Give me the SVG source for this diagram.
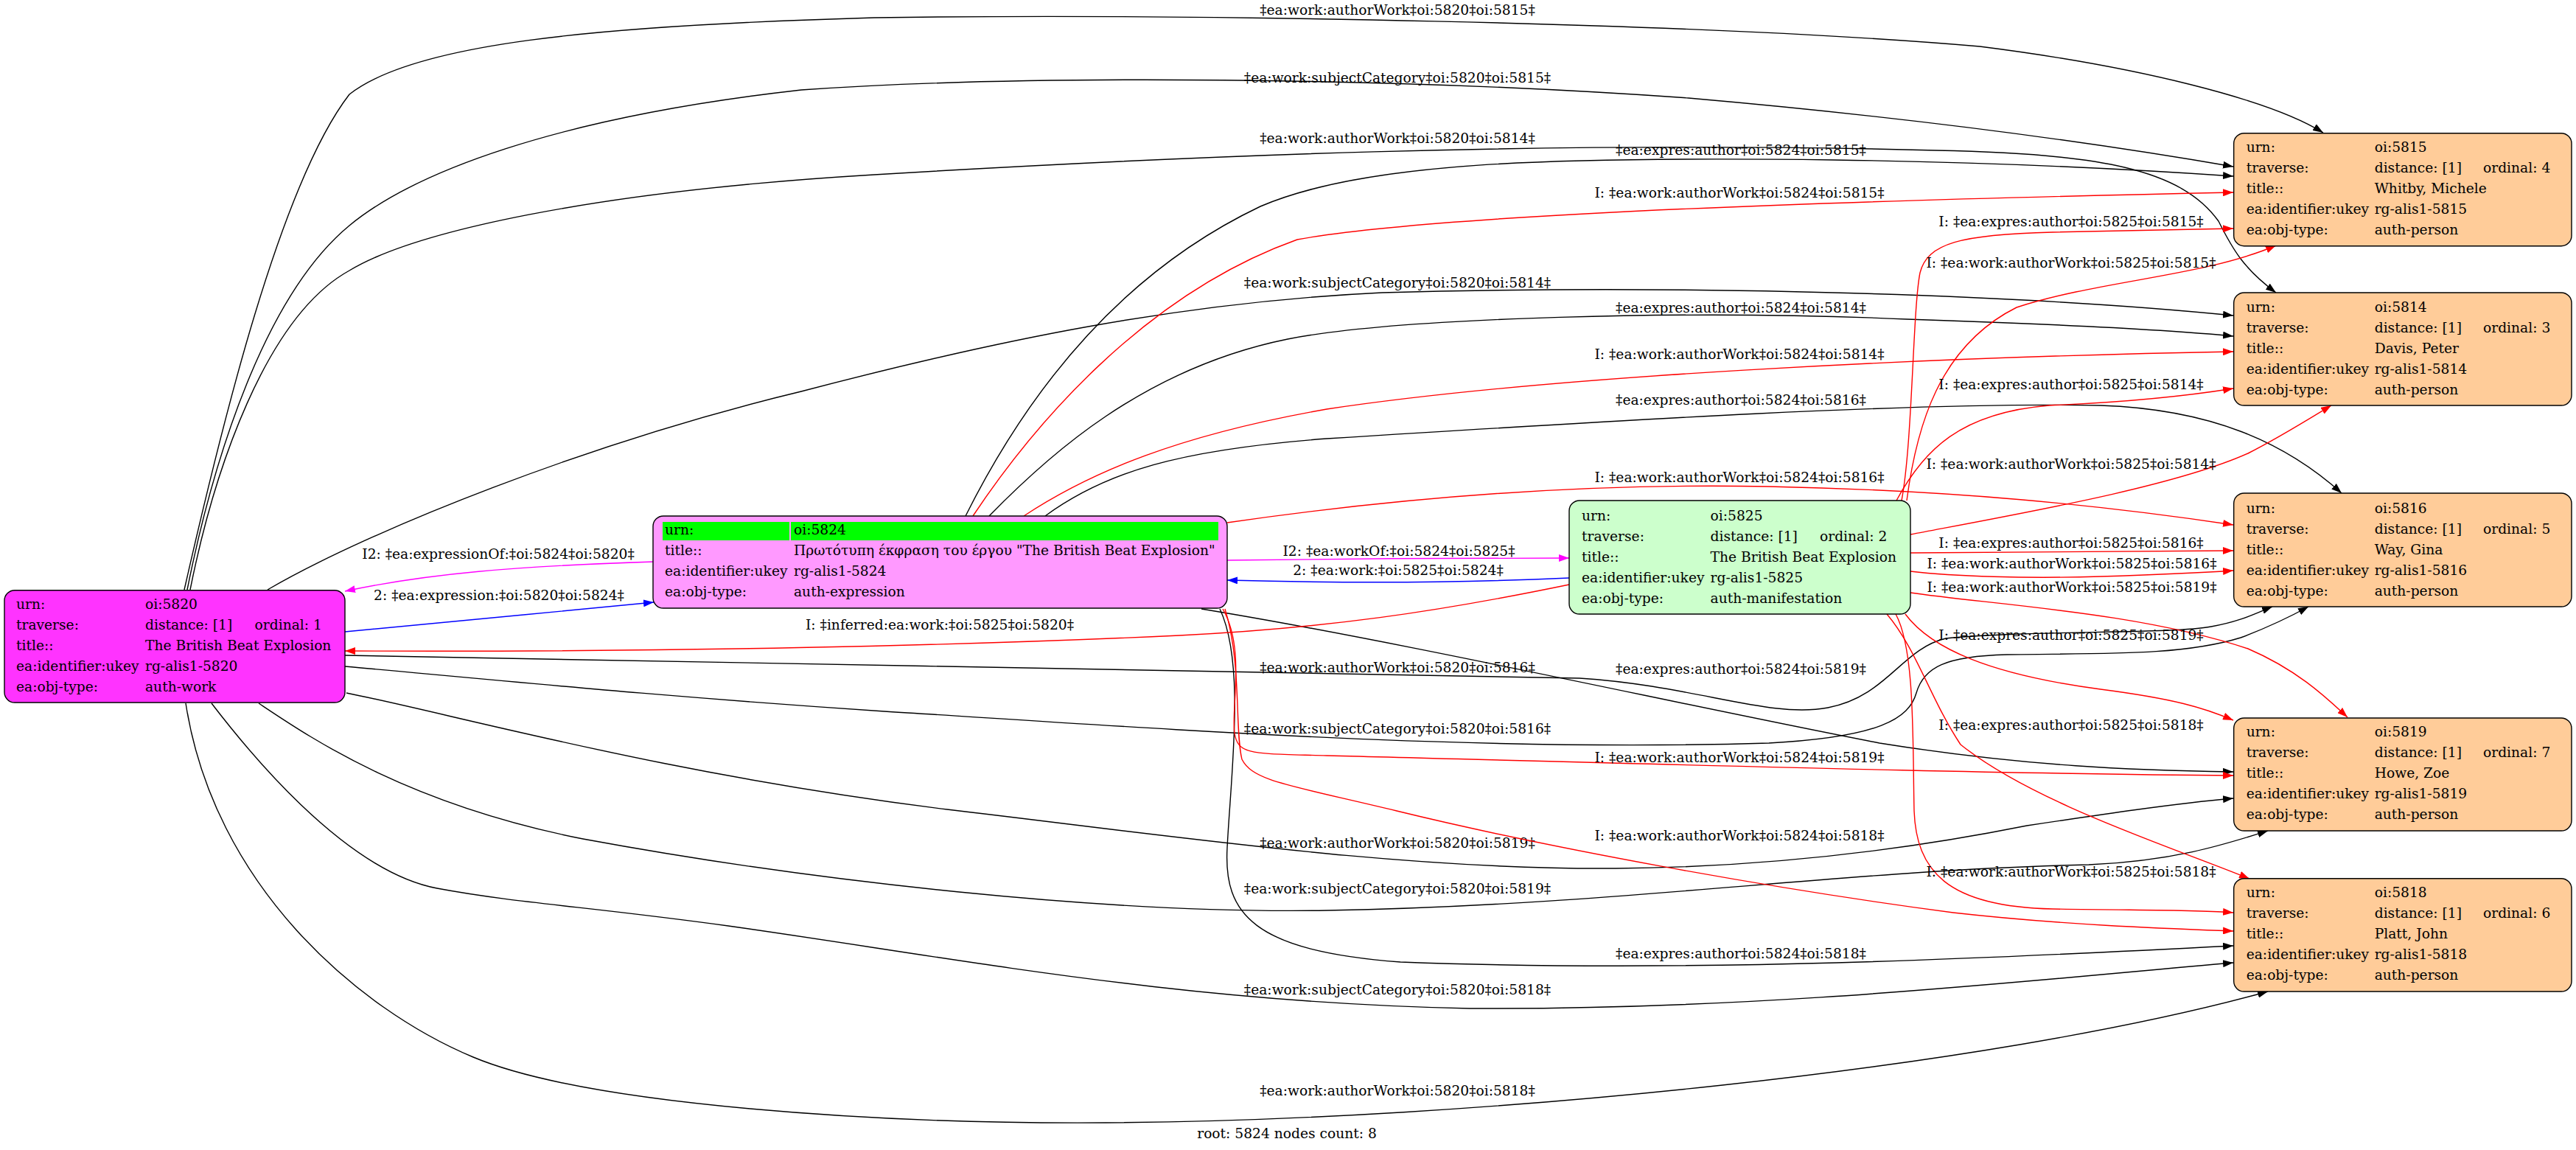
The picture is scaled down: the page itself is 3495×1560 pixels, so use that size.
<svg xmlns="http://www.w3.org/2000/svg" width="3495" height="1560" viewBox="0 0 3495 1560">
<style>
text{font-family:"DejaVu Serif","Liberation Serif",serif;font-size:18.67px;fill:#000}
.lbl{text-anchor:middle}
.e{fill:none;stroke-width:1.4}
.k{stroke:#000}
.r{stroke:#ff0000}
.m{stroke:#ff00ff}
.b{stroke:#0000ff}
.box{stroke:#000;stroke-width:1.4}
.person{fill:#ffcc99}
</style>
<defs>
<marker id="ak" viewBox="0 0 14 10" refX="14" refY="5" markerWidth="14" markerHeight="10" markerUnits="userSpaceOnUse" orient="auto"><path d="M0,0 L14,5 L0,10 z" fill="#000"/></marker>
<marker id="ar" viewBox="0 0 14 10" refX="14" refY="5" markerWidth="14" markerHeight="10" markerUnits="userSpaceOnUse" orient="auto"><path d="M0,0 L14,5 L0,10 z" fill="#ff0000"/></marker>
<marker id="am" viewBox="0 0 14 10" refX="14" refY="5" markerWidth="14" markerHeight="10" markerUnits="userSpaceOnUse" orient="auto"><path d="M0,0 L14,5 L0,10 z" fill="#ff00ff"/></marker>
<marker id="ab" viewBox="0 0 14 10" refX="14" refY="5" markerWidth="14" markerHeight="10" markerUnits="userSpaceOnUse" orient="auto"><path d="M0,0 L14,5 L0,10 z" fill="#0000ff"/></marker>
</defs>
<rect x="0" y="0" width="3495" height="1560" fill="#ffffff"/>

<g id="edges">
<g id="e1"><path class="e k" marker-end="url(#ak)" d="M250,800 C300,580 380,250 474,128 C560,60 800,35 1186,24 C1600,18 2300,30 2686,63 C2900,90 3080,135 3152,180"/><text class="lbl" x="1896" y="20">‡ea:work:authorWork‡oi:5820‡oi:5815‡</text></g>
<g id="e2"><path class="e k" marker-end="url(#ak)" d="M254,800 C290,620 360,400 474,306 C560,235 750,160 1087,122 C1400,100 1900,105 2291,133 C2600,160 2850,195 3030,226"/><text class="lbl" x="1896" y="112">‡ea:work:subjectCategory‡oi:5820‡oi:5815‡</text></g>
<g id="e3"><path class="e k" marker-end="url(#ak)" d="M258,800 C290,640 360,430 474,367 C560,315 800,260 1186,237 C1600,212 2100,190 2627,204 C2850,208 2960,230 3010,300 C3030,340 3045,365 3088,397"/><text class="lbl" x="1896" y="194">‡ea:work:authorWork‡oi:5820‡oi:5814‡</text></g>
<g id="e4"><path class="e k" marker-end="url(#ak)" d="M363,800 C500,720 800,600 1087,531 C1350,462 1600,410 1875,397 C2300,385 2750,400 3030,428"/><text class="lbl" x="1896" y="390">‡ea:work:subjectCategory‡oi:5820‡oi:5814‡</text></g>
<g id="e5"><path class="e k" marker-end="url(#ak)" d="M468,889 C900,900 1800,910 2143,920 C2300,930 2400,975 2480,960 C2560,945 2580,880 2640,866 C2750,855 2950,860 3000,850 C3040,843 3060,832 3083,823"/><text class="lbl" x="1896" y="912">‡ea:work:authorWork‡oi:5820‡oi:5816‡</text></g>
<g id="e6"><path class="e k" marker-end="url(#ak)" d="M468,904 C700,925 900,945 1200,965 C1600,990 2000,1020 2400,1008 C2550,1000 2590,975 2600,940 C2610,905 2640,890 2723,888 C2850,886 2960,890 3040,865 C3080,850 3110,835 3132,823"/><text class="lbl" x="1896" y="995">‡ea:work:subjectCategory‡oi:5820‡oi:5816‡</text></g>
<g id="e7"><path class="e k" marker-end="url(#ak)" d="M470,940 C620,970 900,1050 1285,1098 C1600,1135 1900,1180 2192,1178 C2450,1176 2650,1140 2750,1120 C2850,1105 2950,1090 3030,1083"/><text class="lbl" x="1896" y="1150">‡ea:work:authorWork‡oi:5820‡oi:5819‡</text></g>
<g id="e8"><path class="e k" marker-end="url(#ak)" d="M351,954 C420,1000 550,1090 791,1138 C1100,1195 1500,1240 1800,1235 C2200,1228 2500,1180 2834,1173 C2950,1168 3020,1145 3077,1127"/><text class="lbl" x="1896" y="1212">‡ea:work:subjectCategory‡oi:5820‡oi:5819‡</text></g>
<g id="e9"><path class="e k" marker-end="url(#ak)" d="M287,954 C330,1010 465,1181 593,1205 C700,1225 800,1230 988,1256 C1300,1300 1600,1360 1994,1368 C2400,1370 2750,1330 3030,1306"/><text class="lbl" x="1896" y="1349">‡ea:work:subjectCategory‡oi:5820‡oi:5818‡</text></g>
<g id="e10"><path class="e k" marker-end="url(#ak)" d="M252,954 C290,1200 484,1368 642,1434 C800,1500 1200,1525 1500,1523 C2000,1520 2700,1450 3077,1345"/><text class="lbl" x="1896" y="1486">‡ea:work:authorWork‡oi:5820‡oi:5818‡</text></g>

<g id="e11"><path class="e k" marker-end="url(#ak)" d="M1310,700 C1380,560 1500,380 1710,280 C1850,220 2100,212 2488,217 C2700,220 2900,230 3030,239"/><text class="lbl" x="2362" y="210">‡ea:expres:author‡oi:5824‡oi:5815‡</text></g>
<g id="e12"><path class="e k" marker-end="url(#ak)" d="M1342,700 C1420,620 1550,500 1747,460 C1900,430 2300,420 2587,433 C2800,440 2950,448 3030,456"/><text class="lbl" x="2362" y="424">‡ea:expres:author‡oi:5824‡oi:5814‡</text></g>
<g id="e13"><path class="e k" marker-end="url(#ak)" d="M1418,700 C1500,640 1600,610 1800,595 C2200,570 2600,545 2850,550 C3000,555 3100,600 3177,669"/><text class="lbl" x="2362" y="549">‡ea:expres:author‡oi:5824‡oi:5816‡</text></g>
<g id="e14"><path class="e k" marker-end="url(#ak)" d="M1630,826 C1900,870 2300,960 2550,1008 C2750,1040 2900,1045 3030,1047"/><text class="lbl" x="2362" y="914">‡ea:expres:author‡oi:5824‡oi:5819‡</text></g>
<g id="e15"><path class="e k" marker-end="url(#ak)" d="M1655,826 C1690,900 1670,1050 1665,1150 C1660,1240 1700,1290 1900,1305 C2300,1320 2700,1300 3030,1283"/><text class="lbl" x="2362" y="1300">‡ea:expres:author‡oi:5824‡oi:5818‡</text></g>

<g id="e16"><path class="e r" marker-end="url(#ar)" d="M1320,700 C1400,580 1550,400 1760,325 C1950,290 2500,272 3030,261"/><text class="lbl" x="2360" y="268">I: ‡ea:work:authorWork‡oi:5824‡oi:5815‡</text></g>
<g id="e17"><path class="e r" marker-end="url(#ar)" d="M1389,700 C1480,640 1600,590 1800,555 C2100,510 2600,485 3030,477"/><text class="lbl" x="2360" y="487">I: ‡ea:work:authorWork‡oi:5824‡oi:5814‡</text></g>
<g id="e18"><path class="e r" marker-end="url(#ar)" d="M1665,709 C1900,675 2150,655 2400,660 C2650,665 2850,685 3030,712"/><text class="lbl" x="2360" y="654">I: ‡ea:work:authorWork‡oi:5824‡oi:5816‡</text></g>
<g id="e19"><path class="e r" marker-end="url(#ar)" d="M1659,826 C1690,880 1670,960 1675,995 C1680,1025 1700,1022 1800,1025 C2200,1035 2700,1050 3030,1052"/><text class="lbl" x="2360" y="1034">I: ‡ea:work:authorWork‡oi:5824‡oi:5819‡</text></g>
<g id="e20"><path class="e r" marker-end="url(#ar)" d="M1662,826 C1685,900 1675,990 1685,1030 C1700,1060 1750,1065 1895,1100 C2100,1150 2400,1205 2650,1238 C2800,1255 2950,1260 3030,1263"/><text class="lbl" x="2360" y="1140">I: ‡ea:work:authorWork‡oi:5824‡oi:5818‡</text></g>

<g id="e21"><path class="e r" marker-end="url(#ar)" d="M2580,679 C2595,600 2595,420 2605,370 C2615,330 2660,318 2785,315 C2900,312 2970,311 3030,310"/><text class="lbl" x="2810" y="307">I: ‡ea:expres:author‡oi:5825‡oi:5815‡</text></g>
<g id="e22"><path class="e r" marker-end="url(#ar)" d="M2587,679 C2600,580 2630,470 2736,417 C2850,380 2990,375 3088,333"/><text class="lbl" x="2810" y="363">I: ‡ea:work:authorWork‡oi:5825‡oi:5815‡</text></g>
<g id="e23"><path class="e r" marker-end="url(#ar)" d="M2573,679 C2610,610 2660,560 2780,550 C2900,545 2980,535 3030,527"/><text class="lbl" x="2810" y="528">I: ‡ea:expres:author‡oi:5825‡oi:5814‡</text></g>
<g id="e24"><path class="e r" marker-end="url(#ar)" d="M2592,725 C2750,695 2950,660 3050,615 C3090,595 3130,570 3163,550"/><text class="lbl" x="2810" y="636">I: ‡ea:work:authorWork‡oi:5825‡oi:5814‡</text></g>
<g id="e25"><path class="e r" marker-end="url(#ar)" d="M2592,750 C2750,748 2900,747 3030,747"/><text class="lbl" x="2810" y="743">I: ‡ea:expres:author‡oi:5825‡oi:5816‡</text></g>
<g id="e26"><path class="e r" marker-end="url(#ar)" d="M2592,775 C2650,782 2750,785 2850,782 C2950,779 3000,776 3030,774"/><text class="lbl" x="2811" y="771">I: ‡ea:work:authorWork‡oi:5825‡oi:5816‡</text></g>
<g id="e27"><path class="e r" marker-end="url(#ar)" d="M2592,804 C2700,820 2900,830 3050,880 C3120,910 3160,950 3185,973"/><text class="lbl" x="2811" y="803">I: ‡ea:work:authorWork‡oi:5825‡oi:5819‡</text></g>
<g id="e28"><path class="e r" marker-end="url(#ar)" d="M2585,833 C2620,880 2700,915 2850,935 C2950,948 2990,960 3030,977"/><text class="lbl" x="2810" y="868">I: ‡ea:expres:author‡oi:5825‡oi:5819‡</text></g>
<g id="e29"><path class="e r" marker-end="url(#ar)" d="M2560,833 C2600,880 2620,950 2660,1010 C2760,1090 2950,1150 3052,1192"/><text class="lbl" x="2810" y="990">I: ‡ea:expres:author‡oi:5825‡oi:5818‡</text></g>
<g id="e30"><path class="e r" marker-end="url(#ar)" d="M2572,833 C2598,880 2595,1000 2597,1100 C2600,1180 2640,1230 2785,1233 C2900,1235 2980,1234 3030,1238"/><text class="lbl" x="2810" y="1189">I: ‡ea:work:authorWork‡oi:5825‡oi:5818‡</text></g>
<g id="e31"><path class="e r" marker-end="url(#ar)" d="M2129,793 C1950,830 1800,852 1600,862 C1300,876 900,885 468,883"/><text class="lbl" x="1275" y="854">I: ‡inferred:ea:work:‡oi:5825‡oi:5820‡</text></g>

<g id="e32"><path class="e m" marker-end="url(#am)" d="M887,762 C700,768 580,778 468,802"/><text class="lbl" x="676" y="758">I2: ‡ea:expressionOf:‡oi:5824‡oi:5820‡</text></g>
<g id="e33"><path class="e b" marker-end="url(#ab)" d="M468,857 C600,845 750,830 887,817"/><text class="lbl" x="677" y="814">2: ‡ea:expression:‡oi:5820‡oi:5824‡</text></g>
<g id="e34"><path class="e m" marker-end="url(#am)" d="M1665,760 C1800,758 2000,757 2129,757"/><text class="lbl" x="1898" y="754">I2: ‡ea:workOf:‡oi:5824‡oi:5825‡</text></g>
<g id="e35"><path class="e b" marker-end="url(#ab)" d="M2129,784 C2000,790 1850,792 1665,787"/><text class="lbl" x="1897" y="780">2: ‡ea:work:‡oi:5825‡oi:5824‡</text></g>
</g>

<g id="node_5820">
<rect class="box" x="6" y="800.7" width="462" height="152.3" rx="14" fill="#ff33ff"/>
<text x="22" y="826">urn:</text><text x="197" y="826">oi:5820</text>
<text x="22" y="854">traverse:</text><text x="197" y="854">distance: [1]</text><text x="345.6" y="854">ordinal: 1</text>
<text x="22" y="882">title::</text><text x="197" y="882">The British Beat Explosion</text>
<text x="22" y="910">ea:identifier:ukey</text><text x="197" y="910">rg-alis1-5820</text>
<text x="22" y="938">ea:obj-type:</text><text x="197" y="938">auth-work</text>
</g>

<g id="node_5824">
<rect class="box" x="886" y="700" width="779" height="125" rx="14" fill="#ff99ff"/>
<rect x="899" y="708" width="172" height="25" fill="#00ff00"/>
<rect x="1073" y="708" width="580" height="25" fill="#00ff00"/>
<text x="902" y="725">urn:</text><text x="1077" y="725">oi:5824</text>
<text x="902" y="753">title::</text><text x="1077" y="753">Πρωτότυπη έκφραση του έργου "The British Beat Explosion"</text>
<text x="902" y="781">ea:identifier:ukey</text><text x="1077" y="781">rg-alis1-5824</text>
<text x="902" y="809">ea:obj-type:</text><text x="1077" y="809">auth-expression</text>
</g>

<g id="node_5825">
<rect class="box" x="2129" y="679" width="463" height="154" rx="14" fill="#ccffcc"/>
<text x="2146" y="706">urn:</text><text x="2320.6" y="706">oi:5825</text>
<text x="2146" y="734">traverse:</text><text x="2320.6" y="734">distance: [1]</text><text x="2469" y="734">ordinal: 2</text>
<text x="2146" y="762">title::</text><text x="2320.6" y="762">The British Beat Explosion</text>
<text x="2146" y="790">ea:identifier:ukey</text><text x="2320.6" y="790">rg-alis1-5825</text>
<text x="2146" y="818">ea:obj-type:</text><text x="2320.6" y="818">auth-manifestation</text>
</g>

<g id="node_5815">
<rect class="box person" x="3030.7" y="180.7" width="458.3" height="153" rx="14"/>
<text x="3047.7" y="206">urn:</text><text x="3221.7" y="206">oi:5815</text>
<text x="3047.7" y="234">traverse:</text><text x="3221.7" y="234">distance: [1]</text><text x="3369" y="234">ordinal: 4</text>
<text x="3047.7" y="262">title::</text><text x="3221.7" y="262">Whitby, Michele</text>
<text x="3047.7" y="290">ea:identifier:ukey</text><text x="3221.7" y="290">rg-alis1-5815</text>
<text x="3047.7" y="318">ea:obj-type:</text><text x="3221.7" y="318">auth-person</text>
</g>

<g id="node_5814">
<rect class="box person" x="3030.7" y="397" width="458.3" height="153" rx="14"/>
<text x="3047.7" y="422.5">urn:</text><text x="3221.7" y="422.5">oi:5814</text>
<text x="3047.7" y="450.5">traverse:</text><text x="3221.7" y="450.5">distance: [1]</text><text x="3369" y="450.5">ordinal: 3</text>
<text x="3047.7" y="478.5">title::</text><text x="3221.7" y="478.5">Davis, Peter</text>
<text x="3047.7" y="506.5">ea:identifier:ukey</text><text x="3221.7" y="506.5">rg-alis1-5814</text>
<text x="3047.7" y="534.5">ea:obj-type:</text><text x="3221.7" y="534.5">auth-person</text>
</g>

<g id="node_5816">
<rect class="box person" x="3030.7" y="669" width="458.3" height="154" rx="14"/>
<text x="3047.7" y="696">urn:</text><text x="3221.7" y="696">oi:5816</text>
<text x="3047.7" y="724">traverse:</text><text x="3221.7" y="724">distance: [1]</text><text x="3369" y="724">ordinal: 5</text>
<text x="3047.7" y="752">title::</text><text x="3221.7" y="752">Way, Gina</text>
<text x="3047.7" y="780">ea:identifier:ukey</text><text x="3221.7" y="780">rg-alis1-5816</text>
<text x="3047.7" y="808">ea:obj-type:</text><text x="3221.7" y="808">auth-person</text>
</g>

<g id="node_5819">
<rect class="box person" x="3030.7" y="974" width="458.3" height="153" rx="14"/>
<text x="3047.7" y="998.5">urn:</text><text x="3221.7" y="998.5">oi:5819</text>
<text x="3047.7" y="1026.5">traverse:</text><text x="3221.7" y="1026.5">distance: [1]</text><text x="3369" y="1026.5">ordinal: 7</text>
<text x="3047.7" y="1054.5">title::</text><text x="3221.7" y="1054.5">Howe, Zoe</text>
<text x="3047.7" y="1082.5">ea:identifier:ukey</text><text x="3221.7" y="1082.5">rg-alis1-5819</text>
<text x="3047.7" y="1110.5">ea:obj-type:</text><text x="3221.7" y="1110.5">auth-person</text>
</g>

<g id="node_5818">
<rect class="box person" x="3030.7" y="1191.7" width="458.3" height="153.3" rx="14"/>
<text x="3047.7" y="1217">urn:</text><text x="3221.7" y="1217">oi:5818</text>
<text x="3047.7" y="1245">traverse:</text><text x="3221.7" y="1245">distance: [1]</text><text x="3369" y="1245">ordinal: 6</text>
<text x="3047.7" y="1273">title::</text><text x="3221.7" y="1273">Platt, John</text>
<text x="3047.7" y="1301">ea:identifier:ukey</text><text x="3221.7" y="1301">rg-alis1-5818</text>
<text x="3047.7" y="1329">ea:obj-type:</text><text x="3221.7" y="1329">auth-person</text>
</g>

<text class="lbl" x="1746" y="1544">root: 5824 nodes count: 8</text>
</svg>
